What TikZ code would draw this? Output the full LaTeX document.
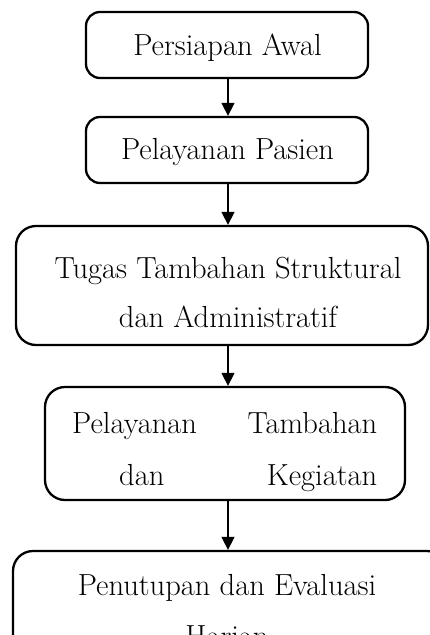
\documentclass[tikz,border=0pt]{standalone}
\usetikzlibrary{arrows.meta}
\begin{document}
\begin{tikzpicture}[x=1pt,y=-1pt,
  box/.style={draw=black, line width=2.3pt, rounded corners=14pt, minimum width=#1, inner sep=0pt},
  txt/.style={inner sep=0pt, anchor=base, align=center, font=\fontsize{30.5}{50}\selectfont},
  flow/.style={line width=1.5pt, -{Triangle[width=13pt,length=13pt]}}]
\useasboundingbox (0,0) rectangle (430,635);
\clip (0,0) rectangle (430,635);
\node[box=282pt, minimum height=66pt] (b1) at (227,45) {};
\node[box=282pt, minimum height=66pt] (b2) at (227,150) {};
\node[box=412pt, minimum height=119pt, rounded corners=20pt] (b3) at (222,285.5) {};
\node[box=360pt, minimum height=113pt, rounded corners=20pt] (b4) at (225,443.5) {};
\node[box=434pt, minimum height=130pt, rounded corners=20pt] (b5) at (230,616) {};
\node[txt] (t1) at (227.5,55) {Persiapan Awal};
\node[txt] (t2) at (227.5,159) {Pelayanan Pasien};
\node[txt, font=\fontsize{30.5}{49}\selectfont] (t3) at (228,327) {Tugas Tambahan Struktural\\dan Administratif};
\node[txt, anchor=base west, align=left, text width=305pt, font=\fontsize{30.5}{52}\selectfont] (t4) at (72,433) {Pelayanan\hfill Tambahan\\\hspace*{47pt}dan\hfill Kegiatan};
\node[txt, font=\fontsize{30.5}{51}\selectfont] (t5) at (227,646) {Penutupan dan Evaluasi\\Harian};
\coordinate (x) at (228,0);
\draw[flow] (b1.south -| x) -- (b2.north -| x);
\draw[flow] (b2.south -| x) -- (b3.north -| x);
\draw[flow] (b3.south -| x) -- (b4.north -| x);
\draw[flow] (b4.south -| x) -- (b5.north -| x);
\end{tikzpicture}
\end{document}
